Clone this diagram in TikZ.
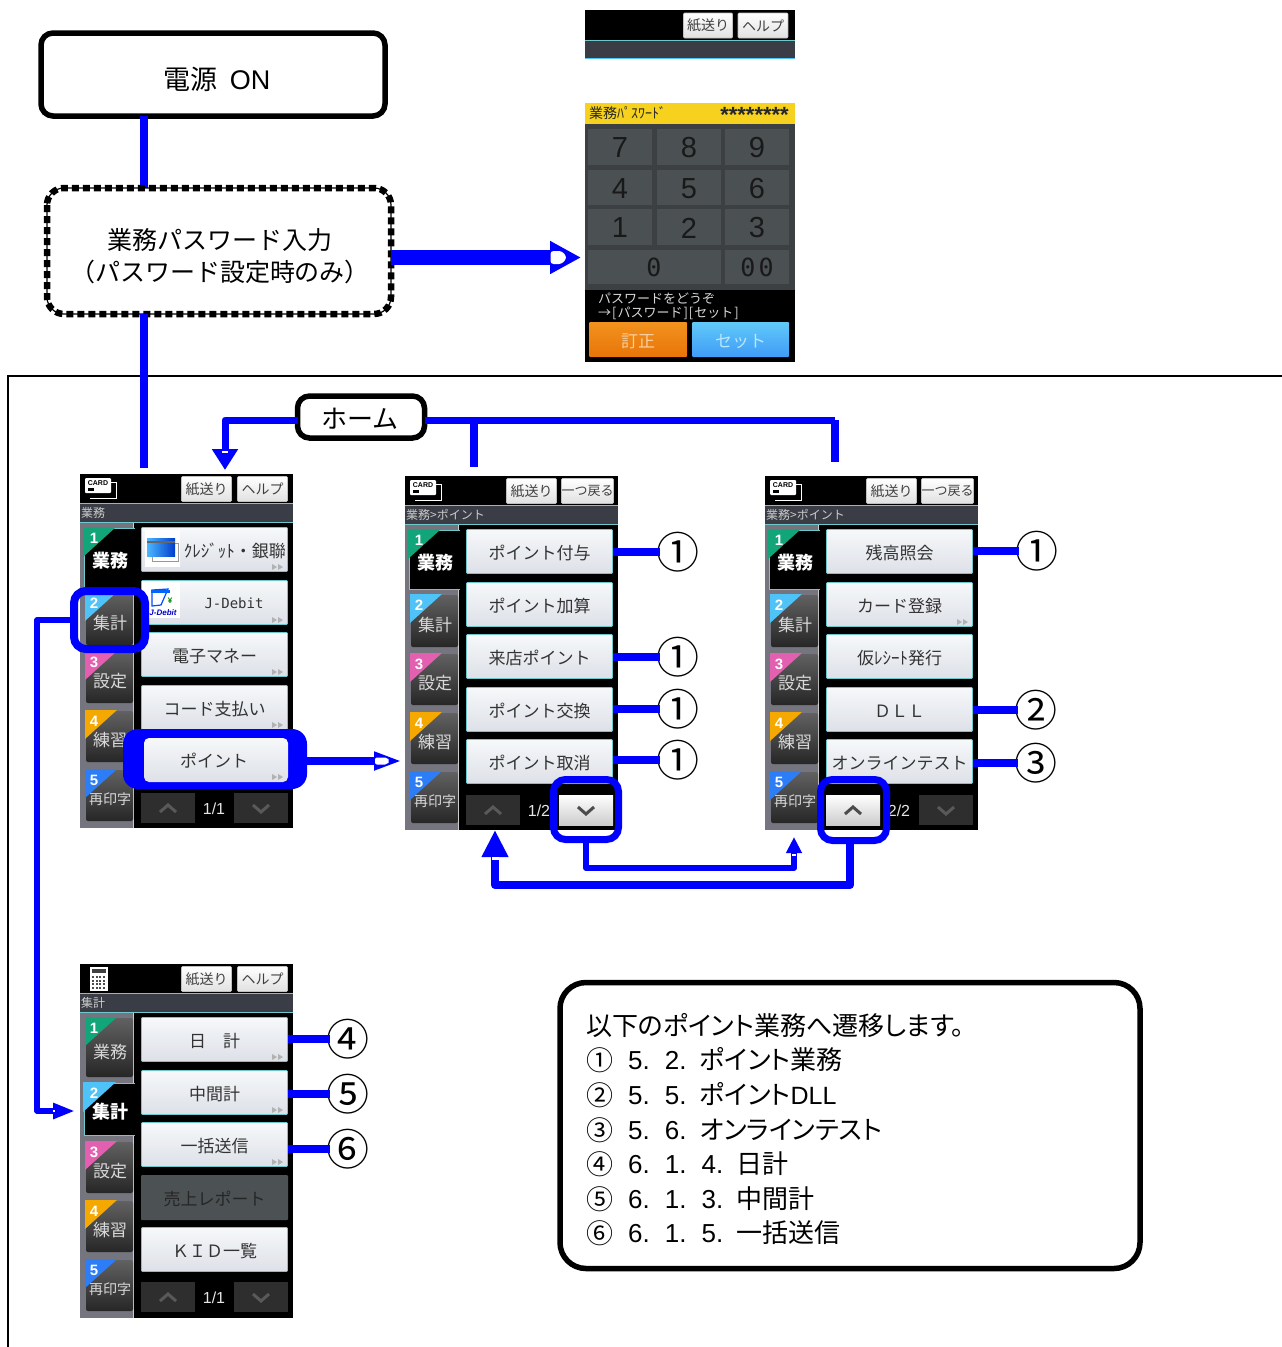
\documentclass[tikz,border=0pt]{standalone}
\usepackage{fontspec}
\setmainfont{Noto Sans CJK JP}
\newfontfamily\ar{Liberation Sans}
\newfontfamily\dm{DejaVu Sans Mono}
\newfontfamily\pj[RawFeature=+palt]{Noto Sans CJK JP}
\usetikzlibrary{arrows.meta,calc}
\definecolor{bl}{HTML}{0000FF}
\definecolor{cy}{HTML}{6FC8CC}
\definecolor{tabA}{HTML}{12A57A}
\definecolor{tabB}{HTML}{4FC3F7}
\definecolor{tabC}{HTML}{E35FB0}
\definecolor{tabD}{HTML}{F5A800}
\definecolor{tabE}{HTML}{2D7DF6}
\definecolor{btop}{HTML}{F6F8FA}
\definecolor{bbot}{HTML}{DDE0E7}
\definecolor{barc}{HTML}{3A3D45}
\definecolor{kbg}{HTML}{3C4043}
\definecolor{kkey}{HTML}{4B5053}
\definecolor{dkbtn}{HTML}{4C5254}
\definecolor{kyel}{HTML}{F6D21F}
\definecolor{orT}{HTML}{F2921E}
\definecolor{orB}{HTML}{E87508}
\definecolor{orX}{HTML}{F9CFA0}
\newcommand\fs[1]{\fontsize{#1}{#1}\selectfont}
\tikzset{
  conn/.style={draw=bl,line width=8pt,line join=round},
  flow/.style={draw=black,line width=5.5pt,rounded corners=12pt,fill=white,inner sep=0pt,outer sep=0pt,align=center},
  hilite/.style={draw=bl,line width=7pt,rounded corners=12pt,inner sep=0pt,outer sep=0pt},
  btn/.style={draw=cy,line width=.9pt,top color=btop,bottom color=bbot,rounded corners=1pt,
     minimum width=146pt,minimum height=44pt,inner sep=0pt,outer sep=0pt,text=black!80,font=\fs{17}},
  hbtn/.style={draw=black!25,line width=.6pt,top color=white,bottom color=black!12,rounded corners=1pt,
     minimum width=50pt,minimum height=25pt,inner sep=0pt,outer sep=0pt,text=black!75,font=\fs{14}},
  num/.style={inner sep=0pt,outer sep=0pt,font=\fs{43}},
}
\newcommand\btxt[1]{\raisebox{-7.5pt}[0pt][0pt]{#1}}
\newcommand\ptab[6]{%
  \pgfmathtruncatemacro\tabact{#5==#6 ? 1 : 0}%
  \ifnum\tabact=1
    \fill[black] (4,#1) rectangle (55,#2);
    \draw[cy,line width=.9pt] (55,#1) -- (4,#1) -- (4,#2) -- (55,#2);
    \fill[#4] (3,#1-1) -- (36,#1-1) -- (3,#1+29) -- cycle;
    \node[inner sep=0pt,text=white,font=\bfseries\fs{18}] at (30,{#1+(#2-#1)*.55}) {#3};
  \else
    \shade[top color=black!62,bottom color=black!85,rounded corners=2pt] (6,#1) rectangle (53,#2);
    \fill[#4] (5,#1-1) -- (37,#1-1) -- (5,#1+28) -- cycle;
    \node[inner sep=0pt,text=white!85!black,font=\fs{\ifnum#5=5 14\else 17\fi}] at (30,{#1+(#2-#1)*.57}) {#3};
  \fi
  \node[inner sep=0pt,text=white,font=\ar\bfseries\fs{15}] at (14,#1+10) {#5};%
}
\newcommand\phonebase[6]{%
  \begin{scope}[shift={(#2,#3)}]
    \fill[black] (0,0) rectangle (213,354);
    \fill[barc] (0,29) rectangle (213,48);
    \draw[cy,line width=.8pt] (0,29.5) -- (213,29.5) (0,48) -- (213,48);
    \node[anchor=west,inner sep=0pt,text=white!80!black,font=\fs{12}] at (1,39) {#4};
    \fill[black!50!blue!8!gray] (0,48.5) rectangle (53,354);
    \draw[black!20,line width=1pt] (53.5,48.5) -- (53.5,354);
    \ptab{54}{113}{業務}{tabA}{1}{#5}
    \ptab{119}{171}{集計}{tabB}{2}{#5}
    \ptab{178}{229}{設定}{tabC}{3}{#5}
    \ptab{237}{288}{練習}{tabD}{4}{#5}
    \ptab{296}{347}{再印字}{tabE}{5}{#5}
    \node[hbtn] (#1-paper) at (126.5,15) {紙送り};
    \node[hbtn,font=\fs{\ifnum\pdfstrcmp{#6}{ヘルプ}=0 14\else 13\fi}] (#1-help) at (182.5,15) {#6};
  \end{scope}%
}
\newcommand\cardicon[2]{%
  \begin{scope}[shift={(#1,#2)}]
    \draw[white,line width=1pt] (10,8) -- (36,8) -- (36,24) -- (10,24);
    \fill[white,rounded corners=1pt] (5,4) rectangle (31,19);
    \node[inner sep=0pt,font=\ar\bfseries\fs{7},text=black] at (18,9) {CARD};
    \fill[black] (8,14) rectangle (14,17);
  \end{scope}%
}
\newcommand\pbtn[6]{%
  \node[btn] (#1) at (#2+134.5,#3+#4+22.5) {\btxt{#5}};
  \ifnum#6=1
    \fill[black!30] (#2+192,#3+#4+37) -- (#2+197,#3+#4+40) -- (#2+192,#3+#4+43) -- cycle
      (#2+198,#3+#4+37) -- (#2+203,#3+#4+40) -- (#2+198,#3+#4+43) -- cycle;
  \fi
}
\newcommand\pnav[5]{%
  \begin{scope}[shift={(#1,#2)}]
    \node[inner sep=0pt,text=white!90!black,font=\ar\fs{16}] at (134,335) {#3};
    \ifnum#4=1 \shade[top color=white,bottom color=black!20] (61,319) rectangle (115,349);
      \draw[black!70,line width=3pt] (80,338) -- (88,331) -- (96,338);
    \else \fill[black!82] (61,319) rectangle (115,349);
      \draw[black!65,line width=3pt] (80,338) -- (88,331) -- (96,338);
    \fi
    \ifnum#5=1 \shade[top color=white,bottom color=black!20] (154,319) rectangle (208,349);
      \draw[black!70,line width=3pt] (173,331) -- (181,338) -- (189,331);
    \else \fill[black!82] (154,319) rectangle (208,349);
      \draw[black!65,line width=3pt] (173,331) -- (181,338) -- (189,331);
    \fi
  \end{scope}%
}
\begin{document}
\begin{tikzpicture}[x=1pt,y=-1pt]
\useasboundingbox (0,0) rectangle (1282,1347);
\draw[black,line width=2pt] (8,1347) -- (8,376) -- (1282,376);

% ---------- keypad panel
\fill[black] (585,10) rectangle (795,40);
\fill[barc] (585,40) rectangle (795,58);
\draw[cy,line width=.8pt] (585,40.5) -- (795,40.5);
\draw[tabB,line width=1pt] (585,58) -- (795,58);
\node[hbtn,minimum width=49pt] (kpaper) at (708,25.5) {紙送り};
\node[hbtn] (khelp) at (763,25.5) {ヘルプ};
\fill[kbg] (585,103) rectangle (795,290);
\fill[black] (585,290) rectangle (795,362);
\fill[kyel] (585,103) rectangle (795,124);
\node[anchor=west,inner sep=0pt,font=\fs{14},text=black!85] (ktitle) at (589,113.5) {業務ﾊﾟｽﾜｰﾄﾞ};
\node[anchor=east,inner sep=0pt,font=\ar\bfseries\fs{22},text=black!85] (kstars) at (789,115) {********};
\foreach \n/\a/\b/\c/\d/\t in {k7/588/129/652/165/7,k8/657/129/721/165/8,k9/725/129/789/165/9,
  k4/588/170/652/205/4,k5/657/170/721/205/5,k6/725/170/789/205/6,
  k1/588/209/652/245/1,k2/657/209/721/245/2,k3/725/209/789/245/3}{
  \fill[kkey] (\a,\b) rectangle (\c,\d);
  \node[inner sep=0pt,text=black!90,font=\ar\fs{29}] (\n) at ({(\a+\c)/2},{(\b+\d)/2+1}) {\t};
}
\fill[kkey] (588,250) rectangle (721,284);
\fill[kkey] (725,250) rectangle (789,284);
\node[inner sep=0pt,text=black!90,font=\dm\fs{25}] (k0) at (654,267) {0};
\node[inner sep=0pt,text=black!90,font=\dm\fs{25}] (k00) at (757,267) {0\hspace{3pt}0};
\node[anchor=west,inner sep=0pt,text=white!85!black,font=\fs{13}] (kmsgA) at (598,299) {パスワードをどうぞ};
\node[anchor=west,inner sep=0pt,text=white!85!black,font=\fs{13}] (kmsgB) at (598,313) {→\hspace{1pt}[\hspace{1pt}パスワード\hspace{1pt}]\hspace{1pt}[\hspace{1pt}セット\hspace{1pt}]};
\node[rounded corners=1pt,top color=orT,bottom color=orB,minimum width=98pt,minimum height=35pt,inner sep=0pt,text=orX,font=\fs{17}] (kfix) at (638,339.5) {\raisebox{-8pt}[0pt][0pt]{訂正}};
\node[rounded corners=1pt,top color=tabB!90!white,bottom color=tabB!80!blue,minimum width=97pt,minimum height=35pt,inner sep=0pt,text=white!60!tabB,font=\fs{17}] (kset) at (740.5,339.5) {\raisebox{-8pt}[0pt][0pt]{セット}};

% ---------- phone 1
\phonebase{a}{80}{474}{業務}{1}{ヘルプ}
\cardicon{80}{474}
\pbtn{a1}{80}{474}{53}{}{1}
\pbtn{a2}{80}{474}{106}{}{1}
\pbtn{a3}{80}{474}{158}{電子マネー}{1}
\pbtn{a4}{80}{474}{211}{コード支払い}{1}
\pnav{80}{474}{1/1}{0}{0}
\fill[white] (145,530) rectangle (180,567);
\draw[black!40,line width=.6pt] (152,543) rectangle (178,561);
\shade[left color=blue!40!cyan!70!white,right color=blue!70!cyan!80!black] (147,538) rectangle (175,556);
\fill[black!60] (147,541) rectangle (175,543);
\node[anchor=east,inner sep=0pt,text=black!80,font=\fs{17}] (a1t) at (286,551) {ｸﾚｼﾞｯﾄ・銀聯};
\fill[white] (142,581) rectangle (180,618);
\draw[blue!70!cyan,line width=1.2pt] (152,598) -- (152,590) -- (168,589) -- (161,605) -- (152,606) -- cycle;
\fill[blue!60!cyan] (151,590) rectangle (170,593);
\node[inner sep=0pt,text=green!50!black,font=\ar\bfseries\fs{8}] (a2y) at (170,601) {¥};
\node[inner sep=0pt,text=blue!80!black,font=\ar\bfseries\itshape\fs{8}] (a2l) at (163,613) {J-Debit};
\node[inner sep=0pt,text=black!80,font=\dm\fs{14}] (a2t) at (234,603) {J-Debit};

% ---------- phone 2
\phonebase{b}{405}{476}{業務>ポイント}{1}{一つ戻る}
\cardicon{405}{476}
\pbtn{b1}{405}{476}{53}{ポイント付与}{0}
\pbtn{b2}{405}{476}{106}{ポイント加算}{0}
\pbtn{b3}{405}{476}{158}{来店ポイント}{0}
\pbtn{b4}{405}{476}{211}{ポイント交換}{0}
\pbtn{b5}{405}{476}{263}{ポイント取消}{0}
\pnav{405}{476}{1/2}{0}{1}

% ---------- phone 3
\phonebase{c}{765}{476}{業務>ポイント}{1}{一つ戻る}
\cardicon{765}{476}
\pbtn{c1}{765}{476}{53}{残高照会}{0}
\pbtn{c2}{765}{476}{106}{カード登録}{1}
\pbtn{c3}{765}{476}{158}{仮ﾚｼｰﾄ発行}{0}
\pbtn{c4}{765}{476}{211}{ＤＬＬ}{0}
\pbtn{c5}{765}{476}{263}{オンラインテスト}{0}
\pnav{765}{476}{2/2}{1}{0}

% ---------- phone 4
\phonebase{d}{80}{964}{集計}{2}{ヘルプ}
\fill[white] (90,967) rectangle (108,991);
\fill[black!75] (92,969) rectangle (106,973);
\foreach \i in {0,1,2,3}\foreach \j in {0,1,2,3}{\fill[black!70] (92+\i*3.6,976+\j*3.6) rectangle +(2,2);}
\pbtn{d1}{80}{964}{53}{日　計}{1}
\pbtn{d2}{80}{964}{106}{中間計}{1}
\pbtn{d3}{80}{964}{158}{一括送信}{1}
\node[fill=dkbtn,rounded corners=1pt,minimum width=147pt,minimum height=45pt,inner sep=0pt,text=black!85,font=\fs{17}] (d4) at (214.5,1197.5) {\btxt{売上レポート}};
\pbtn{d5}{80}{964}{263}{ＫＩＤ一覧}{0}
\pnav{80}{963}{1/1}{0}{0}

% ---------- flow boxes
\node[flow,minimum width=344pt,minimum height=83pt] (power) at (213,74.5) {};
\node[inner sep=0pt,font=\fs{27}] (powerText) at (217,79) {電源\hspace{12pt}{\ar ON}};
\coordinate (trunk) at (144,468);
\draw[conn] (power.south -| trunk) -- ++(0,72);
\node[fill=white,rounded corners=17pt,minimum width=344pt,minimum height=126pt,inner sep=0pt,outer sep=0pt] (pwd) at (219,251) {};
\draw[black,line width=1.2pt,rounded corners=17pt] (pwd.north west) rectangle (pwd.south east);
\draw[black,line width=6.5pt,dash pattern=on 7pt off 4pt,rounded corners=17pt] (pwd.north west) rectangle (pwd.south east);
\node[inner sep=0pt,align=center,font=\fontsize{25}{32}\selectfont] (pwdText) at (220,256) {業務パスワード入力\\（パスワード設定時のみ）};
\draw[conn] (pwd.south -| trunk) -- (trunk);
\coordinate (kpTip) at (581,257.5);
\draw[draw=bl,line width=15pt,-{Triangle[length=31pt,width=31pt]}] (pwd.east |- kpTip) -- (kpTip);
\fill[white,rounded corners=3pt] (550.5,251) -- (562,251) -- (567,257.5) -- (562,264) -- (550.5,264) -- cycle;

% home
\node[flow,minimum width=127pt,minimum height=42pt] (home) at (361,417) {};
\node[inner sep=0pt,font=\fs{26}] (homeText) at (360,418.5) {ホーム};
\coordinate (hy) at (0,420);
\coordinate (homeTip) at (225,470);
\draw[draw=bl,line width=7pt,line join=round,-{Triangle[length=21pt,width=25pt]}] (home.west |- hy) -| (homeTip);
\fill[white] (222,450.5) rectangle (228,452.5);
\coordinate (hR) at (835,462);
\coordinate (hM) at (473.5,467);
\draw[draw=bl,line width=7pt,line join=round] (home.east |- hy) -- (hR |- hy);
\draw[conn] (hR |- hy) -- (hR);
\draw[conn] (hM |- hy) -- (hM);

% highlights phone 1
\node[hilite,line width=8pt,minimum width=71pt,minimum height=58pt] (hTab) at (109.5,620) {};
\node[fill=bl,rounded corners=15pt,minimum width=184pt,minimum height=60pt,inner sep=0pt,outer sep=0pt] (hPt) at (215,759) {};
\node[btn,draw=none,rounded corners=5pt,minimum width=144pt,minimum height=44pt] (a5) at (216,760) {\hspace*{-4pt}\btxt{ポイント}};
\fill[black!30] (272,774) -- (277,777) -- (272,780) -- cycle (278,774) -- (283,777) -- (278,780) -- cycle;
\coordinate (ptTip) at (402,761);
\draw[draw=bl,line width=8pt,-{Triangle[length=28pt,width=17pt]}] (hPt.east |- ptTip) -- (ptTip);
\fill[white,rounded corners=2pt] (375,757.5) -- (387,757.5) -- (390,761) -- (387,764.5) -- (375,764.5) -- cycle;

% highlights phones 2/3 and page links
\node[hilite,minimum width=65pt,minimum height=60pt] (hDown) at (586,809.5) {};
\node[hilite,minimum width=66pt,minimum height=61pt] (hUp) at (853.5,810) {};
\coordinate (lA) at (794,868);
\coordinate (tA) at (794,837);
\draw[draw=bl,line width=6pt,line join=round,-{Triangle[length=16pt,width=15pt]}] (hDown.south) |- (lA) -- (tA);
\fill[white] (792,854) rectangle (796,855.5);
\coordinate (lB) at (850,885);
\coordinate (lC) at (495,885);
\coordinate (tB) at (495,830);
\draw[draw=bl,line width=8pt,line join=round,-{Triangle[length=27pt,width=25pt]}] (hUp.south -| lB) -- (lB) -- (lC) -- (tB);
\fill[white] (491.5,857) rectangle (498.5,860);

% to phone 4
\coordinate (vC) at (37,1111);
\coordinate (dTip) at (75,1111);
\draw[draw=bl,line width=5.5pt,line join=round,-{Triangle[length=22pt,width=15pt]}] (hTab.west) -| (vC) -- (dTip);
\fill[white] (52.5,1110) rectangle (54.5,1112);

% circled numbers
\foreach \n/\x/\y/\t/\from in {nb1/678/552/①/b1,nb3/678/657/①/b3,nb4/678/709/①/b4,nb5/678/760/①/b5,
   nc1/1037/551/①/c1,nc4/1036/710/②/c4,nc5/1036/763/③/c5,
   nd1/348/1039/④/d1,nd2/348/1094/⑤/d2,nd3/348/1149/⑥/d3}{
  \node[num] (\n) at (\x,\y) {\t};
  \draw[conn,shorten >=-3pt] (\from.east |- \n.west) -- (\n.west);
}

% note
\node[draw=black,line width=5.5pt,rounded corners=26pt,fill=white,minimum width=580pt,minimum height=286pt,inner sep=0pt,outer sep=0pt] (note) at (850,1125.5) {};
\newcommand\sg{\hspace{15pt}}
\newcommand\ci[1]{\raisebox{-1pt}{\fontsize{27}{27}\selectfont #1}}
\node[anchor=north west,inner sep=0pt,align=left,font=\pj\fontsize{26}{34.6}\selectfont] (notetext) at (586,1013) {%
以下のポイント業務へ遷移します。\\
\ci{①}\sg{\ar 5.}\sg{\ar 2.}\hspace{13pt}ポイント業務\\
\ci{②}\sg{\ar 5.}\sg{\ar 5.}\hspace{13pt}ポイント{\ar\fontsize{25}{34.6}\selectfont DLL}\\
\ci{③}\sg{\ar 5.}\sg{\ar 6.}\hspace{13pt}オンラインテスト\\
\ci{④}\sg{\ar 6.}\sg{\ar 1.}\sg{\ar 4.}\hspace{13pt}日計\\
\ci{⑤}\sg{\ar 6.}\sg{\ar 1.}\sg{\ar 3.}\hspace{13pt}中間計\\
\ci{⑥}\sg{\ar 6.}\sg{\ar 1.}\sg{\ar 5.}\hspace{13pt}一括送信};
\end{tikzpicture}
\end{document}
